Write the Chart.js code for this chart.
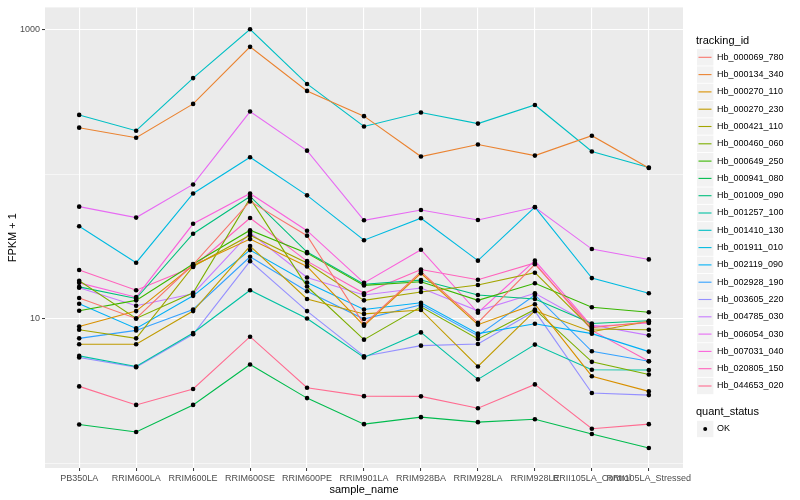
<!DOCTYPE html>
<html>
<head>
<meta charset="utf-8">
<script src="https://cdn.jsdelivr.net/npm/chart.js@4.4.0/dist/chart.umd.min.js"></script>
<style>
  html, body { margin: 0; padding: 0; background: #ffffff; }
  #wrap { width: 800px; height: 500px; }
</style>
</head>
<body>
<div id="wrap"><canvas id="myChart"></canvas></div>
<script>
const samples = ["PB350LA", "RRIM600LA", "RRIM600LE", "RRIM600SE", "RRIM600PE", "RRIM901LA",
  "RRIM928BA", "RRIM928LA", "RRIM928LE", "RRII105LA_Control", "RRII105LA_Stressed"];

const trackingIds = ["Hb_000069_780", "Hb_000134_340", "Hb_000270_110", "Hb_000270_230",
  "Hb_000421_110", "Hb_000460_060", "Hb_000649_250", "Hb_000941_080", "Hb_001009_090",
  "Hb_001257_100", "Hb_001410_130", "Hb_001911_010", "Hb_002119_090", "Hb_002928_190",
  "Hb_003605_220", "Hb_004785_030", "Hb_006054_030", "Hb_007031_040", "Hb_020805_150",
  "Hb_044653_020"];

const seriesColors = ["#F8766D", "#EA8331", "#D89000", "#C09B00", "#A3A500", "#7CAE00",
  "#39B600", "#00BB4E", "#00BF7D", "#00C1A3", "#00BFC4", "#00BAE0", "#00B0F6", "#35A2FF",
  "#9590FF", "#C77CFF", "#E76BF3", "#FA62DB", "#FF62BC", "#FF6C91"];

// FPKM + 1, one value per sample
const hb000069_780 = [13.9, 10.05, 23.7, 64.7, 37.5, 9.14, 21.1, 9.39, 23.8, 8.67, 9.54];
const hb000134_340 = [209, 178, 305, 756, 375, 251, 132, 160, 134, 184, 110];
const hb000270_110 = [8.85, 11.3, 23.3, 35.5, 23.0, 8.95, 20.6, 9.1, 12.6, 4.01, 3.15];
const hb000270_230 = [6.66, 6.66, 11.3, 31.8, 13.7, 10.8, 11.5, 4.68, 11.35, 8.14, 9.61];
const hb000421_110 = [8.4, 7.32, 23.0, 37.8, 24.3, 13.4, 15.3, 17.1, 20.8, 8.5, 8.4];
const hb000460_060 = [18.3, 10.05, 15.1, 67.9, 16.7, 7.17, 12.1, 7.25, 11.6, 5.04, 4.12];
const hb000649_250 = [11.35, 13.4, 23.9, 40.9, 28.4, 17.0, 18.0, 13.4, 17.6, 12.0, 11.1];
const hb000941_080 = [1.86, 1.65, 2.54, 4.83, 2.83, 1.87, 2.09, 1.93, 2.02, 1.6, 1.28];
const hb001009_090 = [16.6, 13.8, 38.7, 70.0, 28.9, 17.3, 18.5, 14.6, 13.7, 9.28, 9.69];
const hb001257_100 = [5.54, 4.68, 7.98, 15.75, 10.05, 5.4, 8.05, 3.81, 6.63, 4.44, 4.43];
const hb001410_130 = [256, 199, 460, 1000, 419, 213, 266, 223, 300, 143, 111];
const hb001911_010 = [43.6, 24.4, 73.4, 130.5, 71.2, 34.9, 49.5, 25.2, 59.1, 19.1, 15.0];
const hb002119_090 = [12.7, 8.58, 14.4, 29.8, 17.8, 11.6, 12.9, 7.89, 9.24, 7.89, 5.93];
const hb002928_190 = [7.32, 8.31, 11.6, 26.8, 15.5, 9.95, 12.5, 7.64, 14.6, 5.96, 5.09];
const hb003605_220 = [5.4, 4.63, 7.82, 25.0, 11.3, 5.51, 6.52, 6.7, 11.3, 3.07, 2.97];
const hb004785_030 = [16.4, 12.3, 14.9, 39.3, 19.3, 14.6, 16.3, 11.35, 15.0, 9.05, 7.68];
const hb006054_030 = [59.5, 50.0, 84.7, 270, 145, 47.9, 56.4, 48.1, 58.9, 30.3, 25.7];
const hb007031_040 = [17.7, 14.1, 45.3, 73.4, 40.6, 17.7, 30.0, 11.0, 25.2, 8.85, 9.34];
const hb020805_150 = [21.7, 15.75, 22.8, 49.7, 25.0, 15.0, 21.9, 18.6, 24.3, 8.31, 5.09];
const hb044653_020 = [3.41, 2.54, 3.27, 7.52, 3.34, 2.92, 2.91, 2.41, 3.52, 1.74, 1.87];

const allSeries = [hb000069_780, hb000134_340, hb000270_110, hb000270_230, hb000421_110,
  hb000460_060, hb000649_250, hb000941_080, hb001009_090, hb001257_100, hb001410_130,
  hb001911_010, hb002119_090, hb002928_190, hb003605_220, hb004785_030, hb006054_030,
  hb007031_040, hb020805_150, hb044653_020];

const yTicks = [1, 10, 100, 1000];
const yLabelled = [10, 1000];

const FONT = "'Liberation Sans', Arial, sans-serif";
Chart.defaults.font.family = FONT;

// lines first, then one layer of black points on top (like geom_line + geom_point)
const lineSets = allSeries.map((vals, i) => ({
  label: trackingIds[i],
  data: vals.map((v, j) => ({ x: j, y: v })),
  borderColor: seriesColors[i],
  borderWidth: 1.1,
  pointRadius: 0,
  tension: 0,
  order: 2,
}));
const pointSets = allSeries.map((vals, i) => ({
  label: trackingIds[i] + " OK",
  data: vals.map((v, j) => ({ x: j, y: v })),
  showLine: false,
  pointRadius: 2.3,
  pointBorderWidth: 0,
  pointBackgroundColor: "#000000",
  order: 1,
}));

// grey panel behind the grid
const panelBg = {
  id: "panelBg",
  beforeDraw(chart) {
    const a = chart.chartArea;
    const ctx = chart.ctx;
    ctx.save();
    ctx.fillStyle = "#EBEBEB";
    ctx.fillRect(a.left, a.top, a.right - a.left, a.bottom - a.top);
    ctx.restore();
  },
};

// ggplot style legend on the right
const ggLegend = {
  id: "ggLegend",
  afterDraw(chart) {
    const ctx = chart.ctx;
    ctx.save();
    ctx.textBaseline = "middle";
    ctx.textAlign = "left";
    ctx.fillStyle = "#000000";
    ctx.font = "11px " + FONT;
    ctx.fillText("tracking_id", 696, 40.5);
    trackingIds.forEach((id, i) => {
      const cy = 57.3 + i * 17.3;
      ctx.fillStyle = "#F2F2F2";
      ctx.fillRect(697, cy - 8.2, 16.4, 16.4);
      ctx.strokeStyle = seriesColors[i];
      ctx.lineWidth = 1.1;
      ctx.beginPath();
      ctx.moveTo(698.5, cy);
      ctx.lineTo(711.5, cy);
      ctx.stroke();
      ctx.fillStyle = "#000000";
      ctx.font = "9px " + FONT;
      ctx.fillText(id, 717, cy);
    });
    ctx.font = "11px " + FONT;
    ctx.fillText("quant_status", 696, 412);
    ctx.fillStyle = "#F2F2F2";
    ctx.fillRect(697, 420.8, 16.4, 16.4);
    ctx.fillStyle = "#000000";
    ctx.beginPath();
    ctx.arc(705.2, 429, 2, 0, Math.PI * 2);
    ctx.fill();
    ctx.font = "9px " + FONT;
    ctx.fillText("OK", 717, 429);
    ctx.restore();
  },
};

const config = {
  type: "line",
  data: { datasets: lineSets.concat(pointSets) },
  options: {
    responsive: true,
    maintainAspectRatio: false,
    animation: false,
    events: [],
    layout: { padding: { left: 6, right: 117, top: 5, bottom: 0 } },
    plugins: { legend: { display: false }, tooltip: { enabled: false } },
    scales: {
      x: {
        type: "linear",
        min: -0.6,
        max: 10.6,
        afterBuildTicks: (s) => { s.ticks = samples.map((_, i) => ({ value: i })); },
        afterFit: (s) => { s.height = 32; },
        border: { display: false },
        grid: { color: "#FFFFFF", lineWidth: 1.1, tickColor: "#333333", tickWidth: 1, tickLength: 3 },
        ticks: {
          autoSkip: false,
          maxRotation: 0,
          padding: 2,
          color: "#4D4D4D",
          font: { size: 9 },
          callback: (v) => samples[v] ?? "",
        },
        title: { display: true, text: "sample_name", color: "#000000", font: { size: 11 }, padding: { top: 0, bottom: 3 } },
      },
      y: {
        type: "logarithmic",
        min: 0.931,
        max: 1416,
        afterBuildTicks: (s) => { s.ticks = yTicks.map((v) => ({ value: v })); },
        afterFit: (s) => { s.width = 39; },
        border: { display: false },
        grid: {
          color: "#FFFFFF",
          lineWidth: (c) => (c.tick && yLabelled.includes(c.tick.value) ? 1.1 : 0.55),
          tickColor: (c) => (c.tick && yLabelled.includes(c.tick.value) ? "#333333" : "rgba(0,0,0,0)"),
          tickWidth: 1,
          tickLength: 3,
        },
        ticks: {
          padding: 2,
          color: "#4D4D4D",
          font: { size: 9 },
          callback: (v) => (yLabelled.includes(v) ? String(v) : ""),
        },
        title: { display: true, text: "FPKM + 1", color: "#000000", font: { size: 11 }, padding: 0 },
      },
    },
  },
  plugins: [panelBg, ggLegend],
};

const myChart = new Chart(document.getElementById("myChart"), config);
</script>
</body>
</html>
